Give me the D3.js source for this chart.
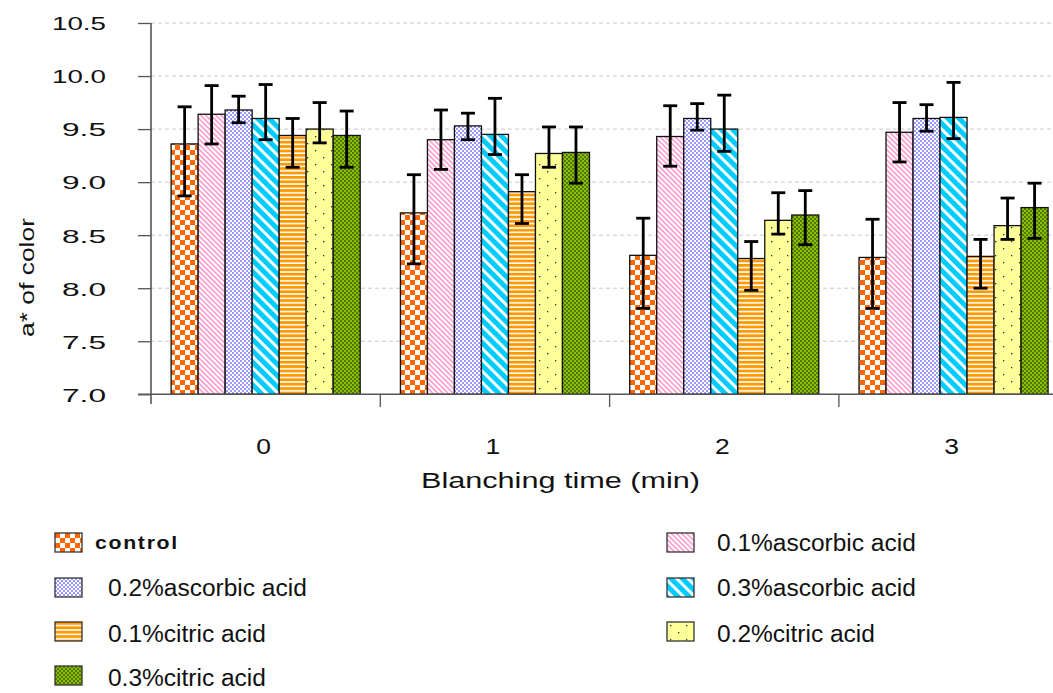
<!DOCTYPE html>
<html>
<head>
<meta charset="utf-8">
<script src="https://cdn.jsdelivr.net/npm/d3@7"></script>
<style>
  html, body { margin: 0; padding: 0; background: #fff; }
  svg { display: block; font-family: Arial, "Liberation Sans", sans-serif; }
</style>
</head>
<body>
<svg id="chart" width="1053" height="693"></svg>
<script>
// Blanching time groups
const categories = ["0", "1", "2", "3"];

// Treatments
const series = [
  "control",
  "0.1%ascorbic acid",
  "0.2%ascorbic acid",
  "0.3%ascorbic acid",
  "0.1%citric acid",
  "0.2%citric acid",
  "0.3%citric acid"
];

// Mean a* value per treatment, one entry per blanching time
const control   = [9.36, 8.71, 8.31, 8.29];
const asc01     = [9.64, 9.40, 9.43, 9.47];
const asc02     = [9.68, 9.53, 9.60, 9.60];
const asc03     = [9.60, 9.45, 9.50, 9.61];
const cit01     = [9.44, 8.91, 8.28, 8.30];
const cit02     = [9.50, 9.27, 8.64, 8.59];
const cit03     = [9.44, 9.28, 8.69, 8.76];

// Error bar ends (upper / lower) per treatment
const controlHi = [9.71, 9.07, 8.66, 8.65];
const controlLo = [8.87, 8.23, 7.81, 7.81];
const asc01Hi   = [9.91, 9.68, 9.72, 9.75];
const asc01Lo   = [9.36, 9.12, 9.15, 9.19];
const asc02Hi   = [9.81, 9.65, 9.74, 9.73];
const asc02Lo   = [9.56, 9.40, 9.49, 9.48];
const asc03Hi   = [9.92, 9.79, 9.82, 9.94];
const asc03Lo   = [9.40, 9.26, 9.29, 9.41];
const cit01Hi   = [9.60, 9.07, 8.44, 8.46];
const cit01Lo   = [9.14, 8.61, 7.98, 8.00];
const cit02Hi   = [9.75, 9.52, 8.90, 8.85];
const cit02Lo   = [9.37, 9.14, 8.51, 8.46];
const cit03Hi   = [9.67, 9.52, 8.92, 8.99];
const cit03Lo   = [9.14, 8.99, 8.41, 8.47];

const yTicks = [7.0, 7.5, 8.0, 8.5, 9.0, 9.5, 10.0, 10.5];

const means = [control, asc01, asc02, asc03, cit01, cit02, cit03];
const highs = [controlHi, asc01Hi, asc02Hi, asc03Hi, cit01Hi, cit02Hi, cit03Hi];
const lows  = [controlLo, asc01Lo, asc02Lo, asc03Lo, cit01Lo, cit02Lo, cit03Lo];

const svg = d3.select("#chart");
const defs = svg.append("defs");

// widen a text element horizontally by a factor
function widen(sel, k) {
  sel.each(function () {
    const w = this.getComputedTextLength();
    d3.select(this).attr("textLength", w * k).attr("lengthAdjust", "spacingAndGlyphs");
  });
}

// ---- fill patterns ----
function pattern(id, w, h, draw, transform) {
  const p = defs.append("pattern")
    .attr("id", id).attr("patternUnits", "userSpaceOnUse")
    .attr("width", w).attr("height", h);
  if (transform) p.attr("patternTransform", transform);
  draw(p);
}
// orange checkerboard
pattern("p0", 10, 10, p => {
  p.append("rect").attr("width", 10).attr("height", 10).attr("fill", "#fff");
  p.append("rect").attr("width", 5).attr("height", 5).attr("fill", "#FF6600");
  p.append("rect").attr("x", 5).attr("y", 5).attr("width", 5).attr("height", 5).attr("fill", "#FF6600");
});
// pink fine diagonal
pattern("p1", 3.6, 3.6, p => {
  p.append("rect").attr("width", 3.6).attr("height", 3.6).attr("fill", "#fff");
  p.append("rect").attr("width", 3.6).attr("height", 1.6).attr("fill", "#FF99CC");
}, "rotate(45)");
// lavender fine checker
pattern("p2", 4, 4, p => {
  p.append("rect").attr("width", 4).attr("height", 4).attr("fill", "#fff");
  p.append("rect").attr("width", 2).attr("height", 2).attr("fill", "#9999FF");
  p.append("rect").attr("x", 2).attr("y", 2).attr("width", 2).attr("height", 2).attr("fill", "#9999FF");
});
// cyan with wide white diagonal stripes
pattern("p3", 8, 8, p => {
  p.append("rect").attr("width", 8).attr("height", 8).attr("fill", "#00CCFF");
  p.append("rect").attr("width", 8).attr("height", 3).attr("fill", "#fff");
}, "rotate(45)");
// orange horizontal stripes
pattern("p4", 4, 4.4, p => {
  p.append("rect").attr("width", 4).attr("height", 4.4).attr("fill", "#fff");
  p.append("rect").attr("width", 4).attr("height", 2.8).attr("fill", "#FF9900");
});
// pale yellow with sparse dots
pattern("p5", 16, 14, p => {
  p.append("rect").attr("width", 16).attr("height", 14).attr("fill", "#FFFF99");
  p.append("rect").attr("x", 3).attr("y", 3).attr("width", 1.3).attr("height", 1.3).attr("fill", "#333");
  p.append("rect").attr("x", 11).attr("y", 10).attr("width", 1.3).attr("height", 1.3).attr("fill", "#333");
});
// green fine checker
pattern("p6", 4, 4, p => {
  p.append("rect").attr("width", 4).attr("height", 4).attr("fill", "#8DBE00");
  p.append("rect").attr("width", 2).attr("height", 2).attr("fill", "#4F7A00");
  p.append("rect").attr("x", 2).attr("y", 2).attr("width", 2).attr("height", 2).attr("fill", "#4F7A00");
});
const fills = series.map((s, i) => `url(#p${i})`);

// ---- scales ----
const plotLeft = 151, bandW = 229.3;
const x0 = d3.scaleBand().domain(categories)
  .range([plotLeft, plotLeft + bandW * categories.length]).padding(0);
const x1 = d3.scaleBand().domain(series)
  .range([0, x0.bandwidth()]).paddingInner(0).paddingOuter(0.745);
const y = d3.scaleLinear().domain([7.0, 10.5]).range([394.3, 23]);

// ---- grid lines ----
svg.append("g").selectAll("line")
  .data(yTicks.filter(t => t > 7.0))
  .join("line")
  .attr("x1", plotLeft).attr("x2", 1053)
  .attr("y1", d => y(d)).attr("y2", d => y(d))
  .attr("stroke", "#c8c8c8").attr("stroke-width", 1)
  .attr("stroke-dasharray", "4,3");

// ---- bars ----
const rows = [];
categories.forEach((c, ci) => {
  series.forEach((s, si) => {
    rows.push({ c, s, si, v: means[si][ci], hi: highs[si][ci], lo: lows[si][ci] });
  });
});

const bars = svg.append("g");
bars.selectAll("rect")
  .data(rows)
  .join("rect")
  .attr("x", d => x0(d.c) + x1(d.s))
  .attr("y", d => y(d.v))
  .attr("width", x1.bandwidth())
  .attr("height", d => y(7.0) - y(d.v))
  .attr("fill", d => fills[d.si])
  .attr("stroke", "#111").attr("stroke-width", 1.3);

// ---- error bars ----
const eb = svg.append("g").attr("stroke", "#000").attr("stroke-width", 2.8);
const cx = d => x0(d.c) + x1(d.s) + x1.bandwidth() / 2;
eb.selectAll("line.v").data(rows).join("line").attr("class", "v")
  .attr("x1", cx).attr("x2", cx)
  .attr("y1", d => y(d.hi)).attr("y2", d => y(d.lo));
eb.selectAll("line.t").data(rows).join("line").attr("class", "t")
  .attr("x1", d => cx(d) - 7).attr("x2", d => cx(d) + 7)
  .attr("y1", d => y(d.hi)).attr("y2", d => y(d.hi));
eb.selectAll("line.b").data(rows).join("line").attr("class", "b")
  .attr("x1", d => cx(d) - 7).attr("x2", d => cx(d) + 7)
  .attr("y1", d => y(d.lo)).attr("y2", d => y(d.lo));

// ---- y axis ----
const yAxis = svg.append("g").attr("transform", `translate(${plotLeft},0)`)
  .call(d3.axisLeft(y).tickValues(yTicks).tickSize(13).tickFormat(d3.format(".1f")));
yAxis.select(".domain").attr("d", `M0,${y(10.5)}V404`).attr("stroke", "#555").attr("stroke-width", 1.6);
yAxis.selectAll(".tick line").attr("stroke", "#555").attr("stroke-width", 1.3);
yAxis.selectAll(".tick text")
  .attr("x", -45).attr("dy", "0.36em")
  .attr("font-size", 19).attr("fill", "#111")
  .attr("font-family", "Arial, 'Liberation Sans', sans-serif")
  .attr("textLength", d => d >= 10 ? 54 : 44)
  .attr("lengthAdjust", "spacingAndGlyphs");

// ---- x axis ----
const xAxis = svg.append("g").attr("transform", `translate(0,${y(7.0)})`)
  .call(d3.axisBottom(x0).tickSize(0).tickPadding(60));
xAxis.select(".domain").attr("d", `M138,0H1053`).attr("stroke", "#555").attr("stroke-width", 1.6);
xAxis.selectAll(".tick text")
  .attr("font-size", 22).attr("fill", "#111").attr("dy", 0)
  .attr("x", -2)
  .attr("font-family", "Arial, 'Liberation Sans', sans-serif")
  .call(widen, 1.2);
// group separators below the axis
svg.append("g").selectAll("line")
  .data(categories.slice(1))
  .join("line")
  .attr("x1", d => x0(d)).attr("x2", d => x0(d))
  .attr("y1", y(7.0)).attr("y2", 407)
  .attr("stroke", "#555").attr("stroke-width", 1.3);

// ---- axis titles ----
svg.append("text")
  .attr("transform", `translate(34,${(218 + 337) / 2}) rotate(-90)`)
  .attr("text-anchor", "middle")
  .attr("font-size", 21).attr("fill", "#111")
  .attr("textLength", 119).attr("lengthAdjust", "spacingAndGlyphs")
  .text("a* of color");

svg.append("text")
  .attr("x", 421).attr("y", 488)
  .attr("font-size", 22).attr("fill", "#111")
  .attr("textLength", 279).attr("lengthAdjust", "spacingAndGlyphs")
  .text("Blanching time (min)");

// ---- legend ----
const legendItems = [
  { i: 0, col: 0, row: 0 },
  { i: 2, col: 0, row: 1 },
  { i: 4, col: 0, row: 2 },
  { i: 6, col: 0, row: 3 },
  { i: 1, col: 1, row: 0 },
  { i: 3, col: 1, row: 1 },
  { i: 5, col: 1, row: 2 }
];
const rowY = [533, 578, 622, 666];
const textDy = [17.5, 17.5, 19.5, 19.5];
const colX = [55, 667];
const lg = svg.append("g");
const li = lg.selectAll("g").data(legendItems).join("g")
  .attr("transform", d => `translate(${colX[d.col]},${rowY[d.row]})`);
li.append("rect")
  .attr("width", 27).attr("height", 19)
  .attr("fill", d => fills[d.i])
  .attr("stroke", "#333").attr("stroke-width", 1.3);
li.filter(d => d.i === 0).append("text")
  .attr("x", 40).attr("y", 15.5)
  .attr("font-size", 19).attr("font-weight", "bold").attr("fill", "#111")
  .attr("letter-spacing", "1.5px")
  .text(d => series[d.i])
  .call(widen, 1.12);
li.filter(d => d.i !== 0).append("text")
  .attr("x", d => d.col === 0 ? 53 : 50).attr("y", d => textDy[d.row])
  .attr("font-size", 23).attr("fill", "#111")
  .text(d => series[d.i])
  .call(widen, 1.065);
</script>
</body>
</html>
